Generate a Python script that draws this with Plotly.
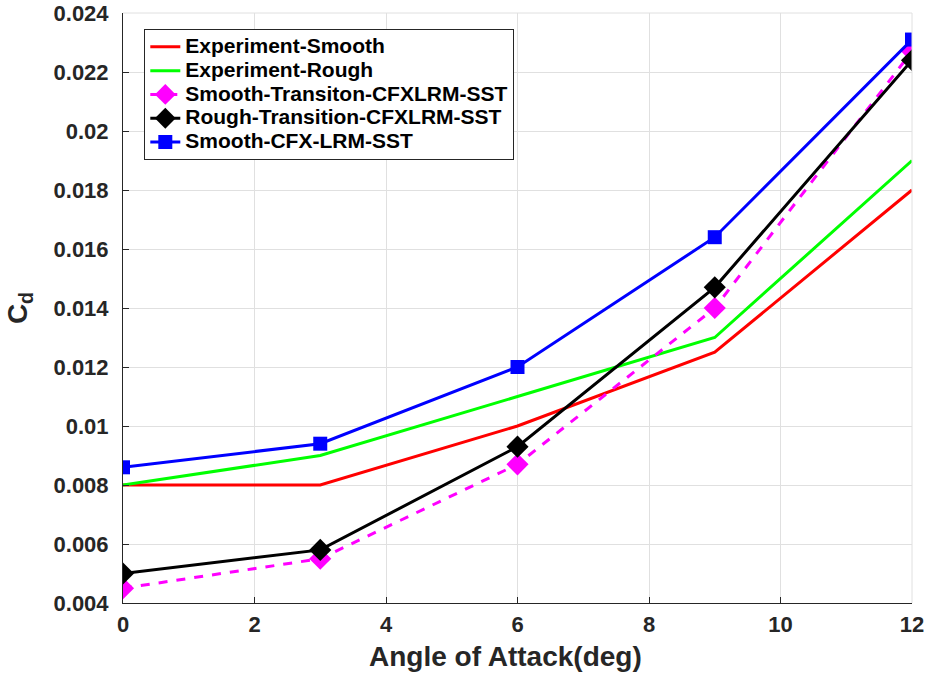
import plotly.graph_objects as go

aoa = [0, 3, 6, 9, 12]
exp_smooth = [0.008, 0.008, 0.010, 0.0125, 0.018]
exp_rough = [0.008, 0.009, 0.011, 0.013, 0.019]
smooth_trans = [0.0045, 0.0055, 0.0087, 0.0140, 0.0227]
rough_trans = [0.0050, 0.0058, 0.0093, 0.0147, 0.0224]
smooth_cfx = [0.0086, 0.0094, 0.0120, 0.0164, 0.0231]

series_names = ["Experiment-Smooth", "Experiment-Rough", "Smooth-Transiton-CFXLRM-SST",
                "Rough-Transition-CFXLRM-SST", "Smooth-CFX-LRM-SST"]

x_ticks = [0, 2, 4, 6, 8, 10, 12]
y_ticks = [0.004, 0.006, 0.008, 0.010, 0.012, 0.014, 0.016, 0.018, 0.020, 0.022, 0.024]
y_ticktext = ["0.004", "0.006", "0.008", "0.01", "0.012", "0.014", "0.016", "0.018", "0.02", "0.022", "0.024"]

x_title = "Angle of Attack(deg)"
y_title = "C<sub>d</sub>"


def lname(s):
    return '<span style="font-size:21px">' + s + '</span>'


fig = go.Figure()
fig.add_trace(go.Scatter(x=aoa, y=exp_smooth, mode="lines", name=lname(series_names[0]),
                         line=dict(color="#ff0000", width=3)))
fig.add_trace(go.Scatter(x=aoa, y=exp_rough, mode="lines", name=lname(series_names[1]),
                         line=dict(color="#00ff00", width=3)))
fig.add_trace(go.Scatter(x=aoa, y=smooth_trans, mode="lines+markers", name=lname(series_names[2]),
                         line=dict(color="#ff00ff", width=3, dash="dash"),
                         marker=dict(symbol="diamond", size=17, color="#ff00ff")))
fig.add_trace(go.Scatter(x=aoa, y=rough_trans, mode="lines+markers", name=lname(series_names[3]),
                         line=dict(color="#000000", width=3),
                         marker=dict(symbol="diamond", size=17, color="#000000")))
fig.add_trace(go.Scatter(x=aoa, y=smooth_cfx, mode="lines+markers", name=lname(series_names[4]),
                         line=dict(color="#0000ff", width=3),
                         marker=dict(symbol="square", size=14, color="#0000ff")))

font_family = "Liberation Sans, Arial, sans-serif"
fig.update_layout(
    width=925, height=675,
    margin=dict(l=123, r=13, t=13, b=72),
    paper_bgcolor="white", plot_bgcolor="white",
    font=dict(family=font_family, color="#262626"),
    showlegend=True,
    legend=dict(x=0.027, y=0.973, xanchor="left", yanchor="top",
                bgcolor="white", bordercolor="#262626", borderwidth=1,
                font=dict(size=16, color="black", family=font_family, weight="bold"),
                tracegroupgap=0, itemwidth=30),
    xaxis=dict(range=[0, 12], tickvals=x_ticks, showgrid=True, gridcolor="#e0e0e0", gridwidth=1,
               zeroline=False, showline=True, linecolor="#262626", linewidth=1,
               ticks="inside", ticklen=6, tickcolor="#262626", automargin=False,
               ticklabelstandoff=2,
               tickfont=dict(size=22, weight="bold", color="#262626")),
    yaxis=dict(range=[0.004, 0.024], tickvals=y_ticks, ticktext=y_ticktext, showgrid=True,
               gridcolor="#e0e0e0", gridwidth=1, zeroline=False, showline=True,
               linecolor="#262626", linewidth=1, ticks="inside", ticklen=6, tickcolor="#262626",
               automargin=False, ticklabelstandoff=9,
               tickfont=dict(size=22, weight="bold", color="#262626"),
               title=dict(text=y_title, font=dict(size=28, weight="bold", color="#262626"), standoff=17)),
)
fig.add_annotation(text=x_title, xref="paper", yref="paper", x=0.4854, y=-0.090,
                   xanchor="center", yanchor="middle", showarrow=False,
                   font=dict(size=28, weight="bold", color="#262626", family=font_family))
fig.add_shape(type="line", xref="paper", yref="paper", x0=0, x1=1, y0=1, y1=1,
              line=dict(color="#e0e0e0", width=1))
fig.add_shape(type="line", xref="paper", yref="paper", x0=1, x1=1, y0=0, y1=1,
              line=dict(color="#e0e0e0", width=1))

fig.write_html("out.html")
